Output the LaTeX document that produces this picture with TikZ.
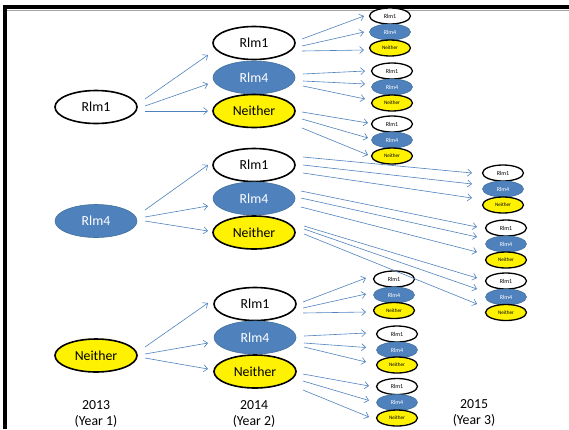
\documentclass[tikz,border=0pt]{standalone}
\usepackage{fontspec}
\setmainfont{Carlito}
\usetikzlibrary{shapes.geometric,arrows.meta,calc}
\definecolor{rblue}{HTML}{4F81BD}
\definecolor{rblueline}{HTML}{41719C}
\definecolor{arrblue}{HTML}{4F81BD}
\tikzset{
  big/.style={ellipse, minimum width=82pt, minimum height=33pt, inner sep=0pt,
    font=\fontsize{13.8}{15}\selectfont, line width=1.6pt},
  small/.style={ellipse, minimum width=41pt, minimum height=16pt, inner sep=0pt,
    font=\fontsize{6}{7}\selectfont, line width=1.3pt},
  one/.style={draw=black, fill=white, text=black},
  four/.style={draw=rblueline, fill=rblue, text=white, line width=0.6pt},
  nei/.style={draw=black, fill=yellow, text=black},
  sn/.style={font=\fontsize{5.2}{6}\selectfont},
  arr/.style={draw=arrblue, line width=0.6pt, -{Straight Barb[length=4pt,width=7pt]}},
  yr/.style={font=\fontsize{13.8}{16.5}\selectfont, align=center, text=black}
}
\newcommand\arrw[6]{\draw[arr] ($(#1)+(#2,#3)$) -- ($(#4)+(#5,#6)$);}
\newcommand\trio[4]{%
  \node[small,one] (#1a) at (#2,#3) {Rlm1};
  \node[small,four] (#1b) at (#2,#3+16) {Rlm4};
  \node[small,nei,sn] (#1c) at (#2,#3+#4) {Neither};}
\begin{document}
\begin{tikzpicture}[x=1pt,y=-1pt]
\useasboundingbox (0,0) rectangle (569,429);
% frame
\draw[gray!70, line width=1pt] (7,10) -- (569,10);
\draw[black, line width=4pt] (5,429) -- (5,7) -- (569,7);
% year 1
\node[big,one] (a1) at (96,107) {Rlm1};
\node[big,four] (a4) at (96,221) {Rlm4};
\node[big,nei] (an) at (96,355.5) {Neither};
% year 2
\node[big,one] (t1) at (254,43) {Rlm1};
\node[big,four] (t4) at (254,77.5) {Rlm4};
\node[big,nei] (tn) at (254,111) {Neither};
\node[big,one] (m1) at (254,165) {Rlm1};
\node[big,four] (m4) at (254,198.5) {Rlm4};
\node[big,nei] (mn) at (254,232.5) {Neither};
\node[big,one] (b1) at (255,304) {Rlm1};
\node[big,four] (b4) at (255,337.5) {Rlm4};
\node[big,nei] (bn) at (255,371.5) {Neither};
% year 3
\trio{T1}{390}{16}{32}
\trio{T2}{392}{71}{32}
\trio{T3}{392}{124}{32}
\trio{M1}{503}{173}{32}
\trio{M2}{506}{228}{32}
\trio{M3}{506}{281}{31.5}
\trio{B1}{394}{279}{31.5}
\trio{B2}{397}{334}{31}
\trio{B3}{397}{386.5}{31.5}
% year labels
\node[yr] (y1) at (96,414) {2013\\(Year 1)};
\node[yr] (y2) at (254,414) {2014\\(Year 2)};
\node[yr] (y3) at (474,413) {2015\\(Year 3)};
% year1 -> year2
\arrw{a1}{49}{-8}{t1}{-46}{12}
\arrw{a1}{49}{-1}{t4}{-46}{6.5}
\arrw{a1}{49}{4}{tn}{-46}{0}
\arrw{a4}{49}{-11}{m1}{-46}{0}
\arrw{a4}{49}{-4}{m4}{-46}{7.5}
\arrw{a4}{49}{0}{mn}{-46}{-1.5}
\arrw{an}{49}{-8.5}{b1}{-47}{-1}
\arrw{an}{49}{-1.5}{b4}{-47}{5.5}
\arrw{an}{49}{2.5}{bn}{-47}{-2.5}
% year2 -> year3, top
\arrw{t1}{48}{-4}{T1a}{-26}{0}
\arrw{t1}{48}{3}{T1b}{-26}{0}
\arrw{t1}{48}{8}{T1c}{-26}{2}
\arrw{t4}{49}{-3.5}{T2a}{-27}{0}
\arrw{t4}{49}{3.5}{T2b}{-27}{-3}
\arrw{t4}{49}{8.5}{T2c}{-27}{-4}
\arrw{tn}{48}{1}{T3a}{-24}{-1}
\arrw{tn}{48}{8}{T3b}{-24}{-2}
\arrw{tn}{48}{17}{T3c}{-24}{-1}
% middle
\arrw{m1}{49}{-8}{M1a}{-31}{0}
\arrw{m1}{49}{0}{M1b}{-31}{-5}
\arrw{m1}{49}{8}{M1c}{-31}{-7}
\arrw{m4}{47}{-7.5}{M2a}{-29}{-1}
\arrw{m4}{47}{-0.5}{M2b}{-29}{-7}
\arrw{m4}{47}{8.5}{M2c}{-29}{-8}
\arrw{mn}{50}{-6.5}{M3a}{-29}{-3}
\arrw{mn}{50}{-3.5}{M3b}{-29}{-8}
\arrw{mn}{50}{1.5}{M3c}{-29}{-8.5}
% bottom
\arrw{b1}{48}{-2}{B1a}{-28}{-1}
\arrw{b1}{48}{4}{B1b}{-28}{-1}
\arrw{b1}{48}{9}{B1c}{-28}{1.5}
\arrw{b4}{49}{-1.5}{B2a}{-31}{-1}
\arrw{b4}{49}{5.5}{B2b}{-31}{-2.5}
\arrw{b4}{49}{9.5}{B2c}{-31}{-3}
\arrw{bn}{48}{2.5}{B3a}{-28}{-0.5}
\arrw{bn}{48}{9.5}{B3b}{-28}{-2}
\arrw{bn}{48}{18.5}{B3c}{-28}{-1}
\end{tikzpicture}
\end{document}
